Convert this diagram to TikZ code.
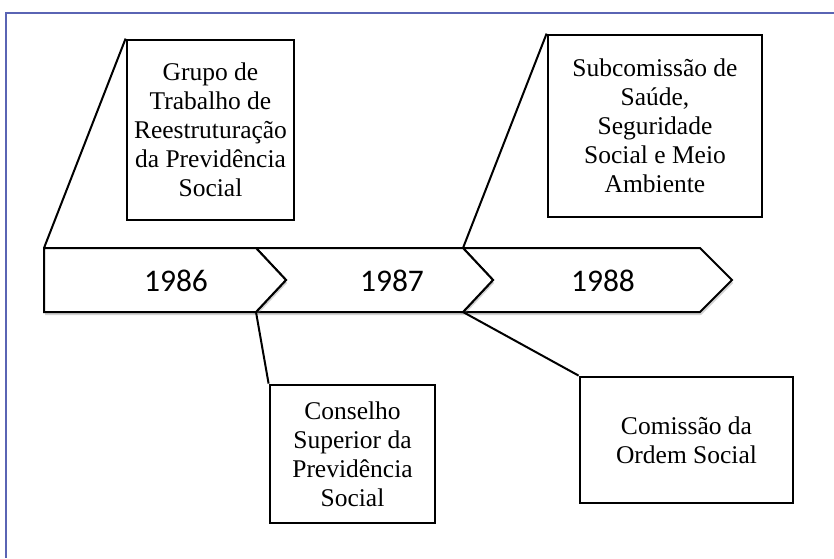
\documentclass[tikz,border=0pt]{standalone}
\usepackage{fontspec}
\setmainfont{Liberation Serif}
\newfontfamily\yearfont{Carlito}
\usetikzlibrary{shadows}
\definecolor{framecol}{HTML}{5A64B4}
\tikzset{
  infobox/.style={draw=black, line width=2.8pt, fill=white, align=center, inner sep=3pt,
    font=\fontsize{25.5}{29}\selectfont},
  seg/.style={draw=black, line width=2pt, fill=white, line join=miter},
  conn/.style={draw=black, line width=2pt},
  year/.style={font=\yearfont\fontsize{31.5}{36}\selectfont},
  framel/.style={draw=framecol, line width=1.4pt}
}
\begin{document}
\begin{tikzpicture}[x=1pt,y=-1pt]
\useasboundingbox[fill=white] (0,0) rectangle (834,558);
\draw[framel] (5,13) -- (834,13);
\draw[framel] (6,13) -- (6,558);
% timeline segments
\coordinate (b1tl) at (44,248);
\coordinate (b1bl) at (44,312);
\coordinate (n2t) at (256,248);
\coordinate (n2b) at (256,312);
\coordinate (n3t) at (463,248);
\coordinate (n3b) at (463,312);
\path[seg, drop shadow={opacity=0.35, shadow xshift=1pt, shadow yshift=-3pt}]
  (n3t) -- (700,248) -- (732,280) -- (700,312) -- (n3b) -- (493,280) -- cycle;
\path[seg, drop shadow={opacity=0.35, shadow xshift=1pt, shadow yshift=-3pt}]
  (n2t) -- (n3t) -- (493,280) -- (n3b) -- (n2b) -- (286,280) -- cycle;
\path[seg, drop shadow={opacity=0.35, shadow xshift=1pt, shadow yshift=-3pt}]
  (b1tl) -- (n2t) -- (286,280) -- (n2b) -- (b1bl) -- cycle;
\node[year] (y86) at (176,281) {1986};
\node[year] (y87) at (392,281) {1987};
\node[year] (y88) at (603,281) {1988};
% boxes
\node[infobox, minimum width=167pt, minimum height=180pt] (g) at (210.5,130)
  {Grupo de\\Trabalho de\\Reestruturação\\da Previdência\\Social};
\node[infobox, minimum width=165pt, minimum height=138pt] (c) at (352.5,454)
  {Conselho\\Superior da\\Previdência\\Social};
\node[infobox, minimum width=214pt, minimum height=182pt] (s) at (655,126)
  {Subcomissão de\\Saúde,\\Seguridade\\Social e Meio\\Ambiente};
\node[infobox, minimum width=213pt, minimum height=126pt] (o) at (686.5,440)
  {Comissão da\\Ordem Social};
% connectors
\draw[conn] (b1tl) -- (g.north west);
\draw[conn] (n2b) -- (c.north west);
\draw[conn] (n3t) -- (s.north west);
\draw[conn] (n3b) -- (o.north west);
\end{tikzpicture}
\end{document}
